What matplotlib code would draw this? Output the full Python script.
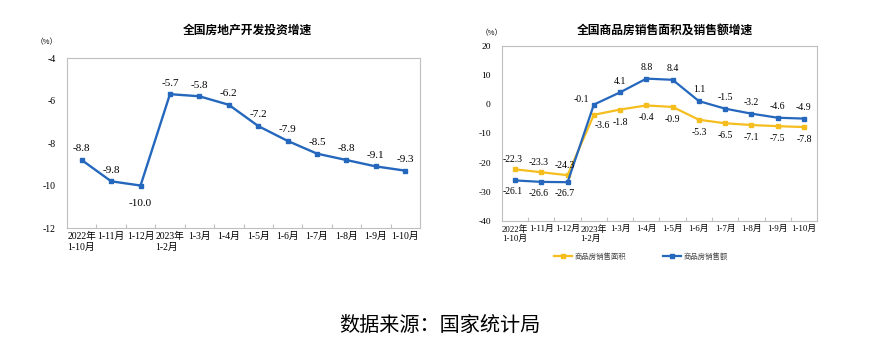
import matplotlib
matplotlib.use("Agg")
import matplotlib.pyplot as plt

plt.rcParams["font.family"] = ["Liberation Serif", "Noto Sans CJK SC"]
plt.rcParams["axes.unicode_minus"] = False

months = ["2022年\n1-10月", "1-11月", "1-12月", "2023年\n1-2月", "1-3月", "1-4月",
          "1-5月", "1-6月", "1-7月", "1-8月", "1-9月", "1-10月"]
invest = [-8.8, -9.8, -10.0, -5.7, -5.8, -6.2, -7.2, -7.9, -8.5, -8.8, -9.1, -9.3]
sales_area = [-22.3, -23.3, -24.3, -3.6, -1.8, -0.4, -0.9, -5.3, -6.5, -7.1, -7.5, -7.8]
sales_value = [-26.1, -26.6, -26.7, -0.1, 4.1, 8.8, 8.4, 1.1, -1.5, -3.2, -4.6, -4.9]

BLUE = "#2467BC"
YELLOW = "#F5BE1E"
GRID = "#BFBFBF"
CJK = ["Noto Sans CJK SC", "DejaVu Sans"]


def style_axes(ax, ylim, yticks, fs_x, fs_y):
    n = len(months)
    ax.set_xlim(-0.5, n - 0.5)
    ax.set_ylim(*ylim)
    ax.set_yticks(yticks)
    ax.set_yticklabels([f"{v:g}" for v in yticks], fontsize=fs_y)
    ax.set_xticks([i + 0.5 for i in range(n - 1)])
    ax.set_xticklabels([])
    ax.tick_params(axis="x", which="major", direction="in", length=3, color=GRID)
    ax.set_xticks(range(n), minor=True)
    ax.set_xticklabels(months, minor=True, fontsize=fs_x, multialignment="left")
    ax.tick_params(axis="x", which="minor", length=0, pad=3)
    ax.tick_params(axis="y", length=0, pad=8)
    for s in ax.spines.values():
        s.set_color(GRID)
        s.set_linewidth(0.8)


fig = plt.figure(figsize=(8.9, 3.53), dpi=100)

# left: investment growth
ax1 = fig.add_axes([0.0753, 0.354, 0.3966, 0.4816])
x = range(len(months))
ax1.plot(x, invest, color=BLUE, lw=1.7, marker="s", ms=3.2)
for i, v in enumerate(invest):
    dy = -13 if v == -10.0 else 8
    ax1.annotate(f"{v:.1f}", (i, v), xytext=(0, dy), textcoords="offset points",
                 ha="center", va="center", fontsize=8)
style_axes(ax1, (-12, -4), [-12, -10, -8, -6, -4], 7, 7)
fig.text(0.278, 0.915, "全国房地产开发投资增速", ha="center", va="center",
         fontsize=8.5, fontweight="bold", family=CJK)
fig.text(0.053, 0.88, "（%）", ha="center", va="center", fontsize=5.5, family=CJK)

# right: sales area and value
ax2 = fig.add_axes([0.564, 0.374, 0.354, 0.4958])
la, = ax2.plot(x, sales_area, color=YELLOW, lw=1.6, marker="s", ms=2.8)
lv, = ax2.plot(x, sales_value, color=BLUE, lw=1.6, marker="s", ms=2.8)
for i, (a, b) in enumerate(zip(sales_area, sales_value)):
    if i < 3:
        off_a, off_b = (-2, 7), (-2, -8)
    elif i == 3:
        off_a, off_b = (6, -8), (-9, 4)
    else:
        off_a, off_b = (0, -9), (0, 8)
    ax2.annotate(f"{a:.1f}", (i, a), xytext=off_a, textcoords="offset points",
                 ha="center", va="center", fontsize=7)
    ax2.annotate(f"{b:.1f}", (i, b), xytext=off_b, textcoords="offset points",
                 ha="center", va="center", fontsize=7)
style_axes(ax2, (-40, 20), [-40, -30, -20, -10, 0, 10, 20], 6.3, 6.8)
fig.text(0.747, 0.915, "全国商品房销售面积及销售额增速", ha="center", va="center",
         fontsize=8.5, fontweight="bold", family=CJK)
fig.text(0.553, 0.905, "（%）", ha="center", va="center", fontsize=5.5, family=CJK)

fig.legend([la, lv], ["商品房销售面积", "商品房销售额"], loc="center",
           bbox_to_anchor=(0.72, 0.272), ncol=2, frameon=False,
           prop={"family": CJK, "size": 5.3}, handlelength=2.4, handletextpad=0.4,
           columnspacing=5, labelcolor="#444444")

fig.text(0.494, 0.079, "数据来源：国家统计局", ha="center", va="center",
         fontsize=14.5, family=CJK)

fig.savefig("out.png", dpi=100)
